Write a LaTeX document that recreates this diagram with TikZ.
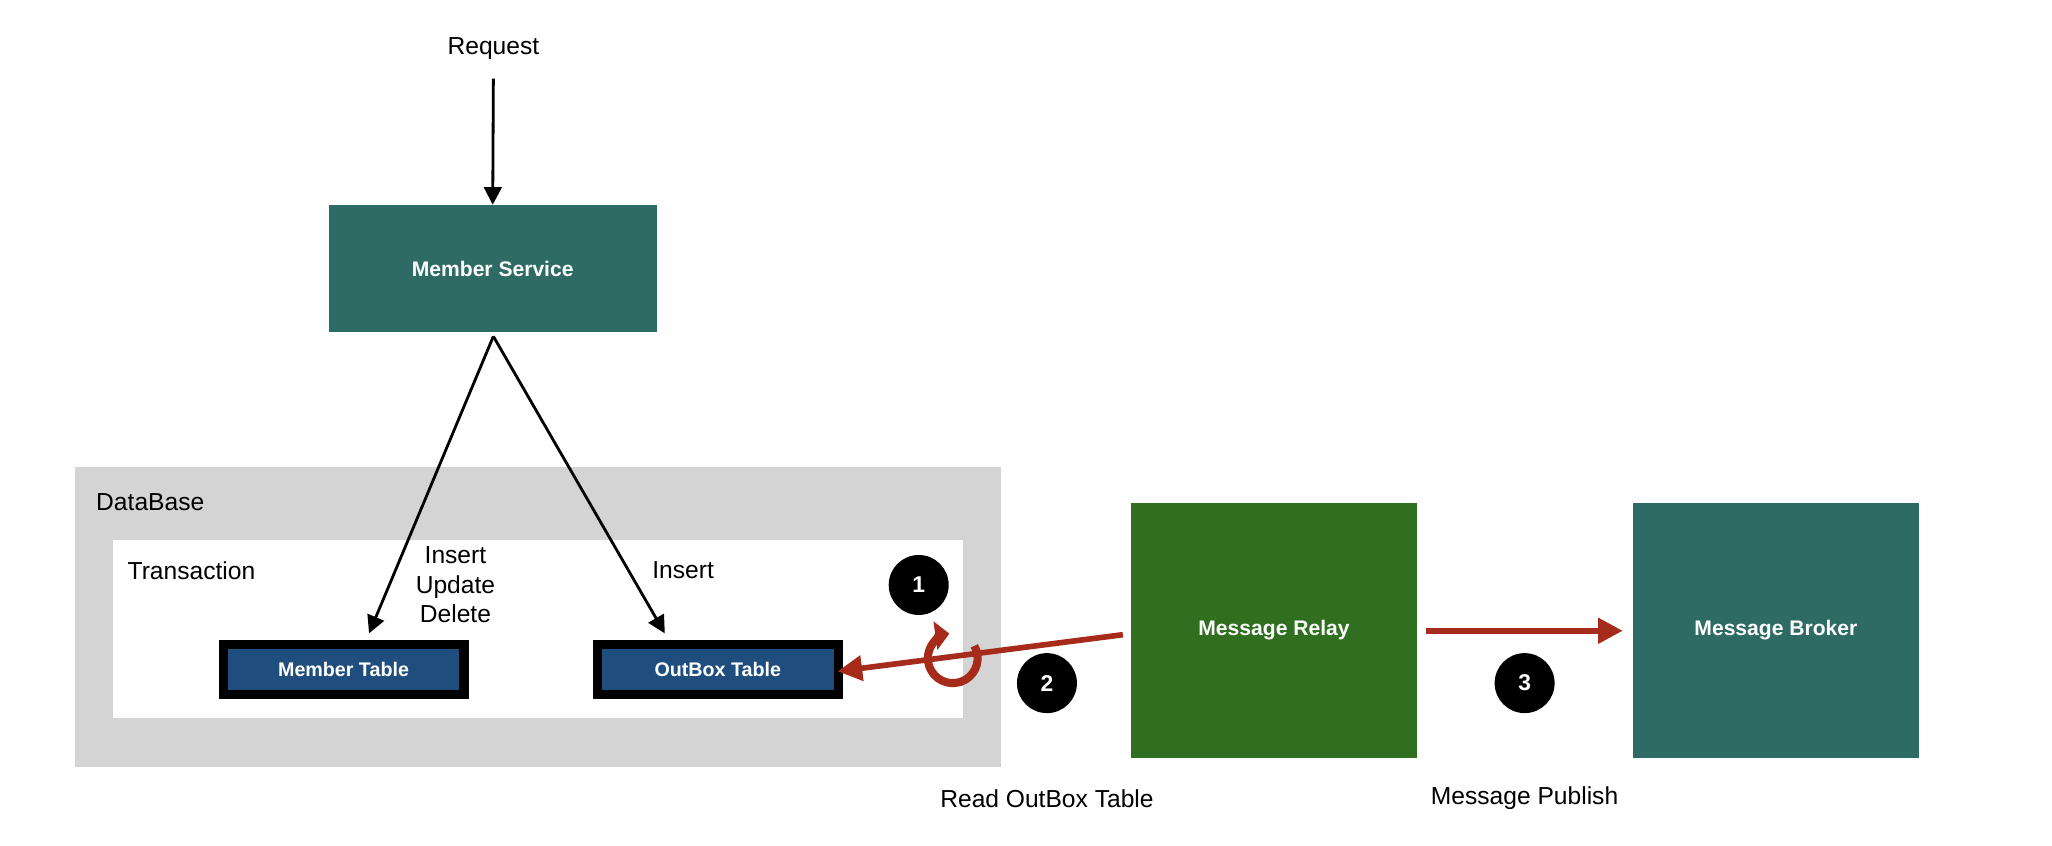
\documentclass[tikz,border=0pt]{standalone}
\usepackage{fontspec}
\setmainfont{Liberation Sans}
\usetikzlibrary{arrows.meta}

\definecolor{svcgreen}{HTML}{2E6B64}
\definecolor{relaygreen}{HTML}{2F6F1F}
\definecolor{tblue}{HTML}{1F4E7E}
\definecolor{dbgrey}{HTML}{D4D4D4}
\definecolor{relred}{HTML}{A62B1A}

\begin{document}
\begin{tikzpicture}[x=0.013087cm,y=-0.013087cm]
\tikzstyle{every node}+=[inner sep=0pt,font=\fontsize{7}{8.4}\selectfont]
\tikzstyle{box}=[draw=none,text=white,font=\fontsize{6}{7}\selectfont\bfseries]
\tikzstyle{tbl}=[draw=black,line width=2.6pt,fill=tblue,text=white,font=\fontsize{5.6}{7}\selectfont\bfseries,minimum width=2.41cm,minimum height=0.5cm]
\tikzstyle{stepdot}=[circle,fill=black,text=white,minimum size=0.6cm,font=\fontsize{6.5}{7}\selectfont\bfseries]
\tikzstyle{blk}=[draw=black,line width=0.8pt,-{Triangle[length=5pt,width=5pt]}]
\tikzstyle{redarr}=[draw=relred,line width=1.6pt,-{Triangle[length=7pt,width=7pt]}]
\useasboundingbox (0,0) rectangle (1568,646);
% database and transaction
\fill [dbgrey] (57,357) rectangle (765,586);
\fill [white] (86,413) rectangle (736,549);
\node [anchor=west] (db) at (73,384) {DataBase};
\node [anchor=west] (tx) at (97,436) {Transaction};
% service and tables
\node (req) at (377,37) {Request};
\node [box,fill=svcgreen,minimum width=3.28cm,minimum height=1.27cm] (svc) at (376.5,205.5) {Member Service};
\node [tbl] (mtbl) at (262.5,511.5) {Member Table};
\node [tbl] (otbl) at (548.5,511.5) {OutBox Table};
\node [box,fill=relaygreen,minimum width=2.87cm,minimum height=2.55cm] (relay) at (973.5,481.5) {Message Relay};
\node [box,fill=svcgreen,minimum width=2.86cm,minimum height=2.55cm] (broker) at (1357,481.5) {Message Broker};
% steps
\node [stepdot] (s1) at (702,447) {1};
\node [stepdot] (s2) at (800,522) {2};
\node [stepdot] (s3) at (1165,522) {3};
% arrows
\coordinate (reqend) at (377,60);
\coordinate (svcbot) at (377,257);
\draw [blk] (reqend) -- (svc.north);
\draw [blk] (svcbot) -- (282,484) coordinate (mtop);
\draw [blk] (svcbot) -- (508,484) coordinate (otop);
\node [align=center] (iud) at (348,447) {Insert\\Update\\Delete};
\node (ins) at (522,436) {Insert};
\coordinate (relayw) at (858,485);
\coordinate (otble) at (640,513);
\draw [redarr] (relayw) -- (otble);
\draw [relred,line width=2.3pt,-{Triangle[length=4pt,width=8pt]}] (744.5,493.5) arc (-30:262:19);
\coordinate (relaye) at (1090,482);
\coordinate (brokerw) at (1240,482);
\draw [redarr] (relaye) -- (brokerw);
\node (read) at (800,610) {Read OutBox Table};
\node (pub) at (1165,610) {Message Publish};
\end{tikzpicture}
\end{document}
